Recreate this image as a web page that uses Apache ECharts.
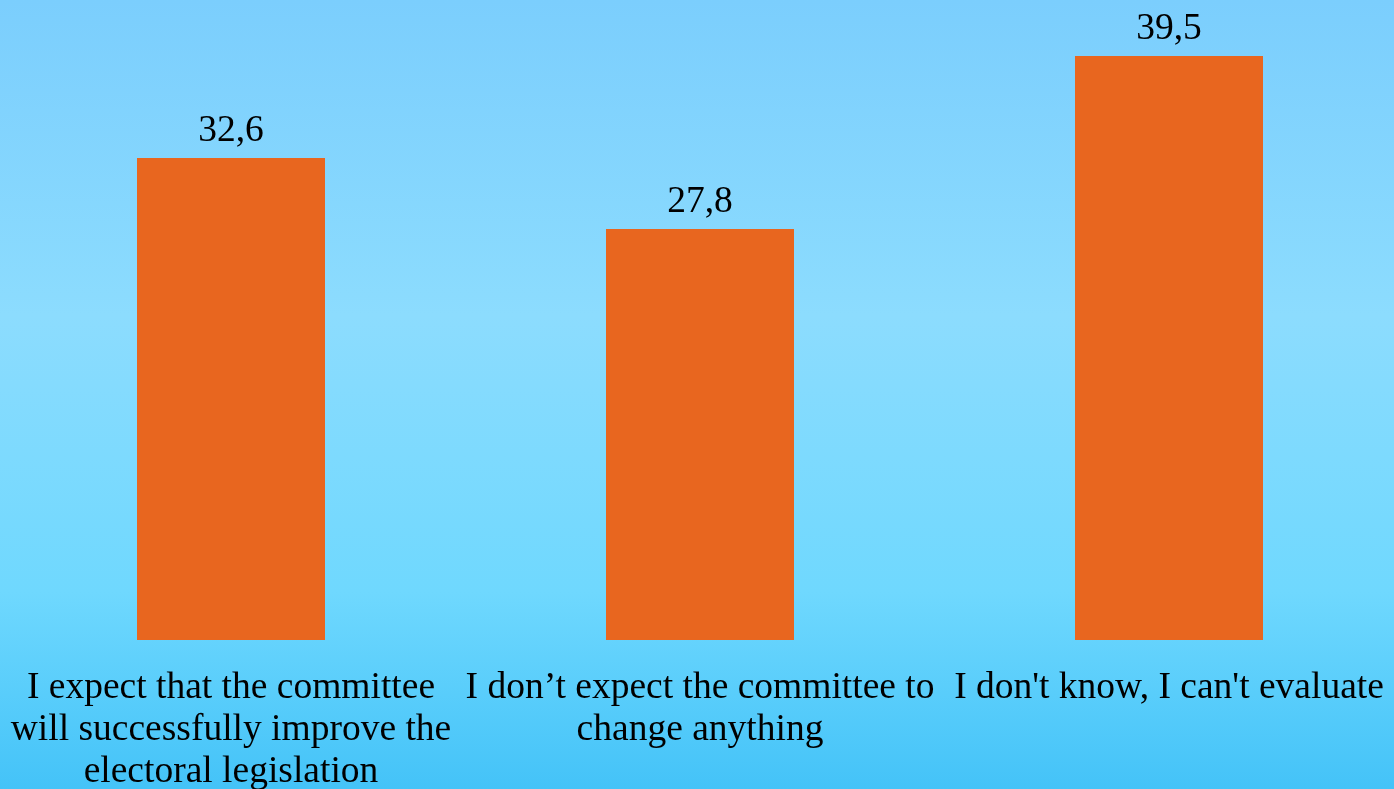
<!DOCTYPE html>
<html>
<head>
<meta charset="utf-8">
<script src="https://cdn.jsdelivr.net/npm/echarts@6/dist/echarts.min.js"></script>
<style>
html,body{margin:0;padding:0;width:1394px;height:789px;overflow:hidden;}
#chart{width:1394px;height:789px;}
</style>
</head>
<body>
<div id="chart"></div>
<script>
const categories = [
  "I expect that the committee\nwill successfully improve the\nelectoral legislation",
  "I don’t expect the committee to\nchange anything",
  "I don't know, I can't evaluate"
];
const values = [32.6, 27.8, 39.5];

const chart = echarts.init(document.getElementById('chart'));
chart.setOption({
  backgroundColor: {
    type: 'linear', x: 0, y: 0, x2: 0, y2: 1,
    colorStops: [
      {offset: 0, color: '#7bcefd'},
      {offset: 0.4, color: '#8cdcfe'},
      {offset: 0.75, color: '#6fd8fe'},
      {offset: 1, color: '#44c3f8'}
    ]
  },
  animation: false,
  grid: {left: -3.5, right: -9.5, top: 48.6, bottom: 149, containLabel: false, outerBoundsMode: 'none'},
  xAxis: {
    type: 'category',
    data: categories,
    axisLine: {show: false},
    axisTick: {show: false},
    axisLabel: {
      interval: 0,
      margin: 27,
      fontFamily: '"Liberation Serif", "Times New Roman", serif',
      fontSize: 37.5,
      lineHeight: 42,
      color: '#000',
      align: 'center'
    }
  },
  yAxis: {
    type: 'value',
    min: 0, max: 40,
    show: false,
    splitLine: {show: false}
  },
  series: [{
    type: 'bar',
    data: values,
    barWidth: 188,
    itemStyle: {color: '#e8661f'},
    label: {
      show: true,
      position: 'top',
      distance: 8,
      formatter: p => String(p.value).replace('.', ','),
      fontFamily: '"Liberation Serif", "Times New Roman", serif',
      fontSize: 37.5,
      color: '#000'
    }
  }]
});
</script>
</body>
</html>
